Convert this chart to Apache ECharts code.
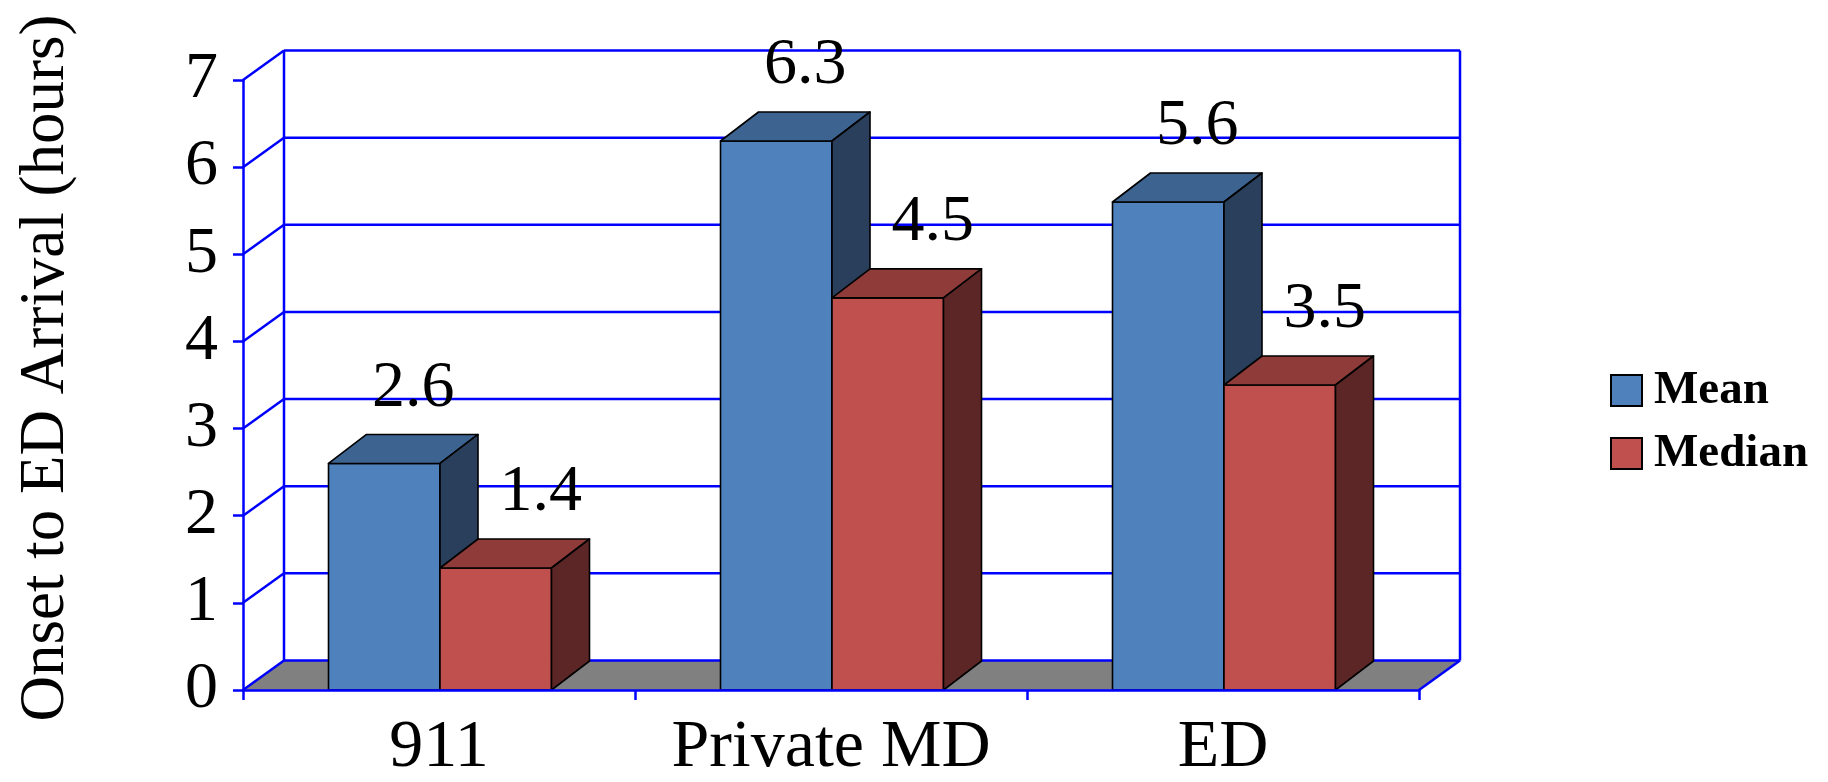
<!DOCTYPE html>
<html>
<head>
<meta charset="utf-8">
<script src="https://cdn.jsdelivr.net/npm/echarts@6/dist/echarts.min.js"></script>
<style>
  html, body { margin: 0; padding: 0; background: #fff; }
  #chart { width: 1828px; height: 782px; }
</style>
</head>
<body>
<div id="chart"></div>
<script>
// Time from symptom onset to ED arrival, by first point of contact
const categories = ['911', 'Private MD', 'ED'];
const meanHours = [2.6, 6.3, 5.6];
const medianHours = [1.4, 4.5, 3.5];
const yTickValues = [0, 1, 2, 3, 4, 5, 6, 7];

const FONT = '"Liberation Serif", "Times New Roman", serif';
const WALL_BLUE = '#0000FF';

// pseudo-3D depth offsets (pixels)
const WALL_DX = 41, WALL_DY = 29.5;
const BAR_DX = 38, BAR_DY = 29;
const BAR_FRAC = 111.5 / 392;

const chart = echarts.init(document.getElementById('chart'), null, { renderer: 'canvas' });

// back wall, left-side gridline diagonals and grey floor
function renderWall(params, api) {
  const v = api.value(0);
  const cs = params.coordSys;
  const xl = cs.x, xr = cs.x + cs.width;
  const y = api.coord([0, v])[1];
  const y0 = api.coord([0, 0])[1];
  const yTop = api.coord([0, yTickValues[yTickValues.length - 1]])[1];
  const line = { stroke: WALL_BLUE, lineWidth: 2.5 };
  const children = [];
  if (v === 0) {
    children.push({
      type: 'polygon',
      shape: { points: [[xl, y0], [xr, y0], [xr + WALL_DX, y0 - WALL_DY], [xl + WALL_DX, y0 - WALL_DY]] },
      style: { fill: '#808080' }
    });
    children.push({
      type: 'line',
      shape: { x1: xr, y1: y0, x2: xr + WALL_DX, y2: y0 - WALL_DY },
      style: line
    });
    children.push({
      type: 'line',
      shape: { x1: xl + WALL_DX, y1: y0 - WALL_DY, x2: xl + WALL_DX, y2: yTop - WALL_DY },
      style: line
    });
    children.push({
      type: 'line',
      shape: { x1: xr + WALL_DX, y1: y0 - WALL_DY, x2: xr + WALL_DX, y2: yTop - WALL_DY },
      style: line
    });
  }
  children.push({
    type: 'line',
    shape: { x1: xl, y1: y, x2: xl + WALL_DX, y2: y - WALL_DY },
    style: line
  });
  children.push({
    type: 'line',
    shape: { x1: xl + WALL_DX, y1: y - WALL_DY, x2: xr + WALL_DX, y2: y - WALL_DY },
    style: line
  });
  return { type: 'group', children: children };
}

// a box-shaped bar: front, top and right faces plus its value label
function barRenderer(faces, slot, labelShift) {
  return function (params, api) {
    const i = api.value(0), v = api.value(1);
    const base = api.coord([i, 0]);
    const top = api.coord([i, v]);
    const band = api.size([1, 0])[0];
    const w = band * BAR_FRAC;
    const xl = base[0] + 1 + (slot === 0 ? -w : 0);
    const xr = xl + w;
    const yb = base[1], yt = top[1];
    const edge = { stroke: '#000', lineWidth: 1.6, lineJoin: 'round' };
    return {
      type: 'group',
      children: [
        { type: 'polygon', shape: { points: [[xl, yb], [xr, yb], [xr, yt], [xl, yt]] },
          style: Object.assign({ fill: faces.front }, edge) },
        { type: 'polygon', shape: { points: [[xl, yt], [xr, yt], [xr + BAR_DX, yt - BAR_DY], [xl + BAR_DX, yt - BAR_DY]] },
          style: Object.assign({ fill: faces.top }, edge) },
        { type: 'polygon', shape: { points: [[xr, yb], [xr + BAR_DX, yb - BAR_DY], [xr + BAR_DX, yt - BAR_DY], [xr, yt]] },
          style: Object.assign({ fill: faces.side }, edge) },
        { type: 'text',
          style: { text: v.toFixed(1), x: (xl + xr) / 2 + labelShift, y: yt - 75,
                   align: 'center', verticalAlign: 'middle',
                   font: '66px ' + FONT, fill: '#000' } }
      ]
    };
  };
}

const meanFaces = { front: '#4F81BD', top: '#3D6391', side: '#293F5C' };
const medianFaces = { front: '#C0504D', top: '#8E3B3A', side: '#5D2626' };

const option = {
  backgroundColor: '#fff',
  animation: false,
  grid: { left: 243, right: 409, top: 80, bottom: 92, containLabel: false, outerBoundsMode: 'none' },
  legend: {
    data: ['Mean', 'Median'],
    orient: 'vertical',
    left: 1605,
    top: 362,
    icon: 'rect',
    itemWidth: 31,
    itemHeight: 31,
    itemGap: 16,
    itemStyle: { borderColor: '#000', borderWidth: 2 },
    textStyle: { fontFamily: FONT, fontSize: 47, fontWeight: 'bold', color: '#000',
                 padding: [0, 0, 0, 7] }
  },
  xAxis: {
    type: 'category',
    data: categories,
    z: 10,
    axisLine: { lineStyle: { color: WALL_BLUE, width: 2.5 } },
    axisTick: { show: true, length: 10, lineStyle: { color: WALL_BLUE, width: 2.5 } },
    axisLabel: { fontFamily: FONT, fontSize: 68, color: '#000', margin: 24,
                 interval: 0, hideOverlap: false }
  },
  yAxis: {
    type: 'value',
    min: 0,
    max: 7,
    interval: 1,
    z: 10,
    axisLine: { show: true, lineStyle: { color: WALL_BLUE, width: 2.5 } },
    axisTick: { show: true, length: 10, lineStyle: { color: WALL_BLUE, width: 2.5 } },
    axisLabel: { fontFamily: FONT, fontSize: 66, color: '#000', margin: 25 },
    splitLine: { show: false }
  },
  graphic: [{
    type: 'text',
    x: 46,
    y: 368,
    rotation: Math.PI / 2,
    style: { text: 'Onset to ED Arrival (hours)', font: '63px ' + FONT, fill: '#000',
             align: 'center', verticalAlign: 'middle' }
  }],
  series: [
    {
      type: 'custom',
      name: 'wall',
      silent: true,
      z: 1,
      renderItem: renderWall,
      data: yTickValues.map(function (v) { return [v]; }),
      encode: { y: 0 }
    },
    {
      type: 'custom',
      name: 'Mean',
      z: 3,
      itemStyle: { color: meanFaces.front },
      renderItem: barRenderer(meanFaces, 0, 29),
      data: meanHours.map(function (v, i) { return [i, v]; })
    },
    {
      type: 'custom',
      name: 'Median',
      z: 4,
      itemStyle: { color: medianFaces.front },
      renderItem: barRenderer(medianFaces, 1, 45),
      data: medianHours.map(function (v, i) { return [i, v]; })
    }
  ]
};

chart.setOption(option);
</script>
</body>
</html>
